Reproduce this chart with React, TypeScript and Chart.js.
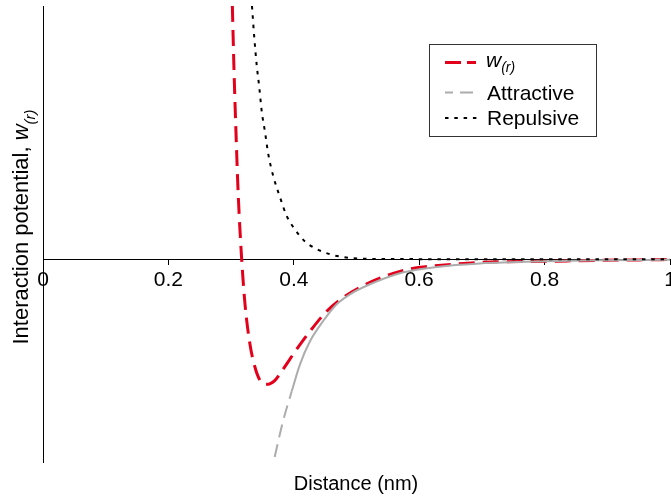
import React, { useEffect, useRef } from "react";
import { Chart, registerables } from "chart.js";

Chart.register(...registerables);

// ---- data ----
const xTickValues = [0, 0.2, 0.4, 0.6, 0.8, 1];

const potentialDistance = [0.302, 0.3046, 0.3078, 0.3115, 0.3169, 0.3222, 0.3301, 0.3381, 0.3461, 0.3568, 0.37, 0.3828, 0.4046, 0.4258, 0.4525, 0.4817, 0.5215, 0.5694, 0.6013, 0.6539, 0.697, 0.7974, 0.8884, 1.0];
const potentialValue = [2.0, 1.5, 1.0, 0.497, 0.0, -0.355, -0.671, -0.852, -0.955, -0.987, -0.955, -0.868, -0.71, -0.568, -0.41, -0.292, -0.182, -0.095, -0.063, -0.039, -0.024, -0.016, -0.008, -0.002];

const attractiveDistance = [0.3695, 0.3828, 0.3967, 0.4099, 0.4258, 0.4466, 0.4684, 0.4896, 0.5215, 0.5694, 0.6013, 0.6539, 0.697, 0.7974, 0.8884, 1.0];
const attractiveValue = [-1.56, -1.279, -1.042, -0.829, -0.647, -0.489, -0.355, -0.276, -0.197, -0.11, -0.079, -0.047, -0.032, -0.016, -0.008, -0.004];

const repulsiveDistance = [0.3333, 0.337, 0.3408, 0.345, 0.3488, 0.3541, 0.3593, 0.3673, 0.378, 0.3887, 0.4019, 0.4179, 0.4338, 0.4577, 0.4737, 0.4944, 0.5694, 1.0];
const repulsiveValue = [2.0, 1.75, 1.535, 1.355, 1.17, 1.005, 0.83, 0.656, 0.49, 0.342, 0.235, 0.14, 0.088, 0.04, 0.022, 0.009, 0.002, 0.0];

const legendLabels = ["Attractive", "Repulsive"];
const xTitle = "Distance (nm)";
const yTitle = "Interaction potential, ";

const RED = "#e3001b";
const GRAY = "#acacac";
const FONT = "'Liberation Sans', Arial, sans-serif";

const toPoints = (xs: number[], ys: number[]) => xs.map((x, i) => ({ x, y: ys[i] }));

const textPlugin = {
  id: "textOverlay",
  afterDraw(chart: any) {
    const ctx = chart.ctx as CanvasRenderingContext2D;
    ctx.save();
    ctx.fillStyle = "#000";
    ctx.textBaseline = "alphabetic";

    // x title
    ctx.font = `20px ${FONT}`;
    ctx.textAlign = "center";
    ctx.fillText(xTitle, 356, 490);

    // y title (rotated) with italic subscript w(r)
    ctx.save();
    ctx.translate(28, 227);
    ctx.rotate(-Math.PI / 2);
    ctx.textAlign = "left";
    ctx.font = `22px ${FONT}`;
    const w1 = ctx.measureText(yTitle).width;
    ctx.font = `italic 22px ${FONT}`;
    const w2 = ctx.measureText("w").width;
    ctx.font = `italic 15px ${FONT}`;
    const w3 = ctx.measureText("(r)").width;
    let sx = -(w1 + w2 + w3) / 2;
    ctx.font = `22px ${FONT}`;
    ctx.fillText(yTitle, sx, 0);
    sx += w1;
    ctx.font = `italic 22px ${FONT}`;
    ctx.fillText("w", sx, 0);
    sx += w2;
    ctx.font = `italic 15px ${FONT}`;
    ctx.fillText("(r)", sx, 7);
    ctx.restore();

    // legend box
    ctx.fillStyle = "#fff";
    ctx.fillRect(429, 44, 167, 92);
    ctx.strokeStyle = "#333";
    ctx.lineWidth = 1;
    ctx.setLineDash([]);
    ctx.strokeRect(429.5, 44.5, 167, 92);

    // legend samples
    ctx.lineCap = "butt";
    ctx.strokeStyle = RED;
    ctx.lineWidth = 3;
    ctx.setLineDash([16, 6]);
    ctx.beginPath();
    ctx.moveTo(445, 62.5);
    ctx.lineTo(476, 62.5);
    ctx.stroke();

    ctx.strokeStyle = GRAY;
    ctx.lineWidth = 2;
    ctx.setLineDash([13, 7]);
    ctx.lineDashOffset = 5;
    ctx.beginPath();
    ctx.moveTo(445, 92.5);
    ctx.lineTo(476, 92.5);
    ctx.stroke();
    ctx.lineDashOffset = 0;

    ctx.strokeStyle = "#000";
    ctx.lineWidth = 2;
    ctx.setLineDash([3.5, 5.8]);
    ctx.beginPath();
    ctx.moveTo(445, 118);
    ctx.lineTo(477, 118);
    ctx.stroke();
    ctx.setLineDash([]);

    // legend text
    ctx.fillStyle = "#000";
    ctx.textAlign = "left";
    ctx.font = `italic 21px ${FONT}`;
    ctx.fillText("w", 486, 67);
    const ww = ctx.measureText("w").width;
    ctx.font = `italic 14px ${FONT}`;
    ctx.fillText("(r)", 486 + ww, 72);
    ctx.font = `21px ${FONT}`;
    ctx.fillText(legendLabels[0], 487, 100);
    ctx.fillText(legendLabels[1], 487, 125);
    ctx.restore();
  },
};

export default function App() {
  const canvasRef = useRef<HTMLCanvasElement | null>(null);

  useEffect(() => {
    const canvas = canvasRef.current;
    if (!canvas) return;
    const chart = new Chart(canvas, {
      type: "line",
      data: {
        datasets: [
          {
            label: "w(r)",
            data: toPoints(potentialDistance, potentialValue),
            borderColor: RED,
            borderWidth: 3,
            borderDash: [16, 8],
            pointRadius: 0,
            cubicInterpolationMode: "monotone",
            fill: false,
            order: 3,
          },
          {
            label: "Attractive",
            data: toPoints(attractiveDistance, attractiveValue),
            borderColor: GRAY,
            borderWidth: 2,
            pointRadius: 0,
            cubicInterpolationMode: "monotone",
            fill: false,
            order: 2,
            segment: {
              borderDash: (c: any) => (c.p0.parsed.y < -1.1 ? [13, 7] : []),
            },
          },
          {
            label: "Repulsive",
            data: toPoints(repulsiveDistance, repulsiveValue),
            borderColor: "#000",
            borderWidth: 2,
            borderDash: [3.5, 5.8],
            pointRadius: 0,
            cubicInterpolationMode: "monotone",
            fill: false,
            order: 1,
          },
        ],
      },
      options: {
        animation: false,
        responsive: false,
        devicePixelRatio: 1,
        layout: { padding: { left: 43, right: 30, top: 6, bottom: 37 } },
        plugins: { legend: { display: false }, tooltip: { enabled: false } },
        scales: {
          x: {
            type: "linear",
            min: 0,
            max: 1,
            position: { y: 0 } as any,
            afterBuildTicks: (scale: any) => {
              scale.ticks = xTickValues.map((v) => ({ value: v }));
            },
            grid: {
              display: true,
              drawOnChartArea: false,
              drawTicks: true,
              tickLength: 5,
              color: "#000",
            },
            border: { display: true, color: "#000", width: 1 },
            ticks: {
              color: "#000",
              font: { family: FONT, size: 21 },
              padding: 3,
              maxRotation: 0,
              callback: (v: any) => String(v),
            },
          },
          y: {
            type: "linear",
            min: -1.6,
            max: 2.0,
            grid: { display: false, drawTicks: false },
            border: { display: true, color: "#000", width: 1 },
            ticks: { display: false },
          },
        },
      },
      plugins: [textPlugin],
    });
    return () => chart.destroy();
  }, []);

  return (
    <div style={{ position: "fixed", left: 0, top: 0, width: 671, height: 499, overflow: "hidden", background: "#fff" }}>
      <canvas ref={canvasRef} width={700} height={499} style={{ display: "block", width: 700, height: 499 }} />
    </div>
  );
}
